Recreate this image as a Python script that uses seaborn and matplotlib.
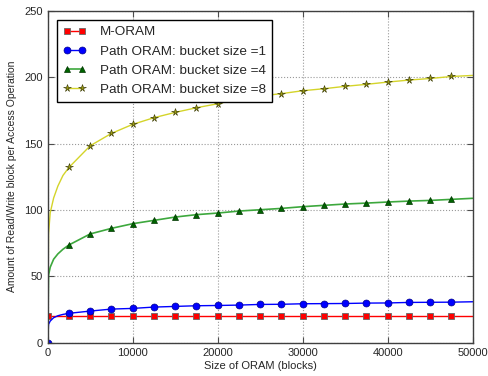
import numpy as np
import pandas as pd
import matplotlib
matplotlib.use('Agg')
import matplotlib.pyplot as plt
import seaborn as sns

# ORAM sizes (blocks): a few small sizes near the origin, then every 2500
sizes = [0, 100, 300, 700, 1200, 1800,
         2500, 5000, 7500, 10000, 12500, 15000, 17500, 20000, 22500, 25000,
         27500, 30000, 32500, 35000, 37500, 40000, 42500, 45000, 47500, 50000]

m_oram = [20] * len(sizes)
path_z1 = [0, 14, 16.5, 19, 20.5, 21.5,
           22.3, 24.0, 25.5, 26.0, 27.0, 27.5, 28.0, 28.2, 28.5, 29.0,
           29.1, 29.5, 29.6, 29.7, 30.0, 30.1, 30.5, 30.6, 30.7, 31.0]
path_z4 = [0, 51, 57, 63, 67, 70.5,
           73.7, 82.0, 86.2, 89.7, 92.2, 94.7, 96.5, 97.7, 99.2, 100.2,
           101.2, 102.5, 103.5, 104.5, 105.2, 106.0, 106.7, 107.2, 108.0, 108.8]
path_z8 = [0, 82, 98, 109, 118, 126,
           132.0, 148.3, 157.6, 164.4, 169.4, 173.4, 176.9, 179.9, 183.5, 185.7,
           187.5, 189.7, 191.2, 193.0, 194.5, 196.2, 197.7, 198.9, 200.4, 201.2]

labels = ['M-ORAM', 'Path ORAM: bucket size =1',
          'Path ORAM: bucket size =4', 'Path ORAM: bucket size =8']

df = pd.DataFrame({'size': sizes, 'm': m_oram, 'z1': path_z1, 'z4': path_z4, 'z8': path_z8})

# markers on 0 and every 2500 up to 47500
idx_rest = list(range(6, len(sizes) - 1))
idx_first = [0] + idx_rest

sns.set_style("ticks")
plt.rcParams['font.family'] = ['Liberation Sans', 'DejaVu Sans']

fig = plt.figure(figsize=(4.88, 3.76), dpi=100)
ax = fig.add_axes([0.0977, 0.0878, 0.8709, 0.8842])

sns.lineplot(data=df, x='size', y='m', ax=ax, color='red', marker='s', markersize=4.5,
             markeredgecolor='0.4', markeredgewidth=0.6, markevery=idx_first, lw=1, label=labels[0])
sns.lineplot(data=df, x='size', y='z1', ax=ax, color='blue', marker='o', markersize=5,
             markeredgecolor='#00008b', markeredgewidth=0.5, markevery=idx_first, lw=1, label=labels[1])
sns.lineplot(data=df, x='size', y='z4', ax=ax, color='#3da83d', marker='^', markersize=5,
             markerfacecolor='#006400', markeredgecolor='#003300', markeredgewidth=0.5,
             markevery=idx_rest, lw=1.2, label=labels[2])
sns.lineplot(data=df, x='size', y='z8', ax=ax, color='#d4d42a', marker='*', markersize=5.5,
             markerfacecolor='#9a9a10', markeredgecolor='#333300', markeredgewidth=0.4,
             markevery=idx_rest, lw=1, label=labels[3])

ax.set_xlim(0, 50000)
ax.set_ylim(0, 250)
ax.set_xticks([0, 10000, 20000, 30000, 40000, 50000])
ax.set_yticks([0, 50, 100, 150, 200, 250])
ax.grid(True, linestyle=':', color='0.6', linewidth=0.8)
ax.tick_params(direction='in', top=True, right=True, labelsize=8, length=4, color='0.3')
for s in ax.spines.values():
    s.set_color('0.25')
    s.set_linewidth(1)
ax.set_xlabel('Size of ORAM (blocks)', fontsize=8, labelpad=2)
ax.set_ylabel('Amount of Read/Write block per Access Operation', fontsize=7.5, labelpad=5)

leg = ax.legend(loc='upper left', fontsize=9.7, numpoints=2, fancybox=False, framealpha=1,
                edgecolor='black', handlelength=1.7, handletextpad=1.0, borderpad=0.45,
                labelspacing=0.5, borderaxespad=0.7)
leg.get_frame().set_linewidth(1)

fig.savefig('out.png', dpi=100, facecolor='white')
